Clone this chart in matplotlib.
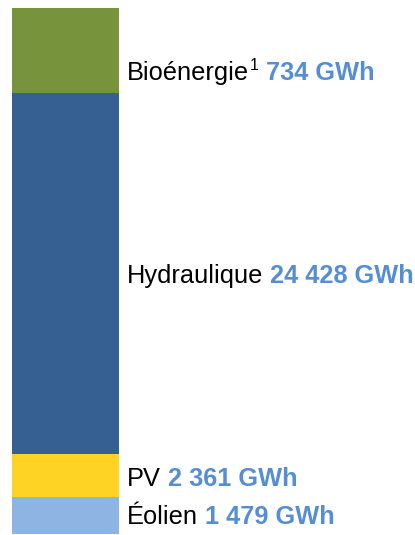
import matplotlib.pyplot as plt

plt.rcParams['font.family'] = ['Liberation Sans', 'DejaVu Sans']

# bottom to top
labels = ['Éolien', 'PV', 'Hydraulique', 'Bioénergie']
notes = ['', '', '', '1']
values = ['1 479 GWh', '2 361 GWh', '24 428 GWh', '734 GWh']
# segment heights (share of the bar, %)
heights = [7.0, 8.2, 68.6, 16.2]
colors = ['#8EB4E3', '#FFD324', '#376092', '#77933C']

fig = plt.figure(figsize=(4.15, 5.35), dpi=100)
ax = fig.add_axes([12 / 415, 1 / 535, 107 / 415, 526 / 535])
ax.set_xlim(0, 1)
ax.set_ylim(0, sum(heights))
ax.axis('off')

bottom = 0
label_drop = [-8, -10, -9, -29]
for i, h in enumerate(heights):
    ax.bar(0.5, h, width=1, bottom=bottom, color=colors[i], linewidth=0)
    ymid = bottom + h / 2
    t = ax.annotate(labels[i], xy=(1, ymid), xytext=(8, label_drop[i]),
                    textcoords='offset pixels', fontsize=18.3, color='black',
                    va='baseline', ha='left', annotation_clip=False)
    last = t
    if notes[i]:
        last = ax.annotate(notes[i], xycoords=t, xy=(1, 0), xytext=(1, 0),
                           textcoords='offset pixels', fontsize=11.5,
                           va='bottom', ha='left')
        last.set_y(0)
        last.xyann = (1, 12)
    ax.annotate(' ' + values[i], xycoords=(last, t), xy=(1, 0),
                fontsize=18.3, fontweight='bold', color='#558ED5',
                va='bottom', ha='left')
    bottom += h

fig.savefig('out.png', dpi=100)
